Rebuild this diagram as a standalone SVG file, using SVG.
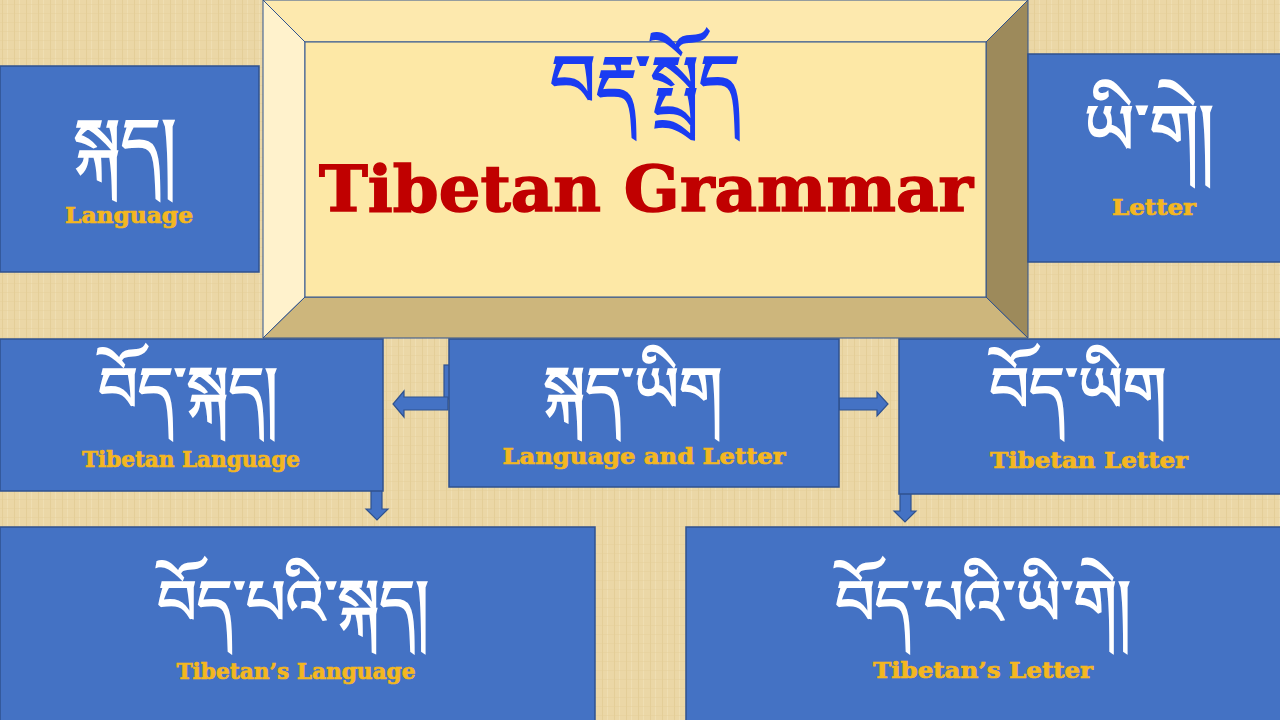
<svg xmlns="http://www.w3.org/2000/svg" width="1280" height="720" viewBox="0 0 1280 720">
<defs>
<pattern id="tex" width="12" height="9" patternUnits="userSpaceOnUse">
<rect width="12" height="9" fill="#ebd7a6"/>
<rect x="2" width="1" height="9" fill="#e0c88f" opacity="0.6"/>
<rect x="7" width="1" height="9" fill="#f2e2b8" opacity="0.7"/>
<rect y="4" width="12" height="1" fill="#e3cd97" opacity="0.4"/>
</pattern>
<style>
.box{fill:#4472c4;stroke:#2f528f;stroke-width:1.5}
.arr{fill:#4472c4;stroke:#2f528f;stroke-width:1.2}
.tb{font-family:"Noto Serif Tibetan","Noto Sans Tibetan","Jomolhari","Microsoft Himalaya",serif;fill:#ffffff;stroke:#ffffff;stroke-width:1.6;text-anchor:middle}
.en{font-family:"DejaVu Serif","Liberation Serif",serif;font-weight:bold;fill:#f4b720;stroke:#f4b720;stroke-width:0.7;text-anchor:middle}
.bev{stroke:#2f528f;stroke-width:1}
</style>
</defs>
<rect width="1280" height="720" fill="url(#tex)"/>

<g id="connectors">
<rect class="arr" x="444" y="365" width="6" height="34"/>
<polygon class="arr" points="448,397 404,397 404,391 393,404 404,417 404,410 448,410"/>
<polygon class="arr" points="839,398 877,398 877,392 888,404 877,416 877,410 839,410"/>
<polygon class="arr" points="371,489 382,489 382,509 388,509 377,520 366,509 371,509"/>
<polygon class="arr" points="900,492 911,492 911,511 916,511 905,522 894,511 900,511"/>
</g>

<g id="title">
<polygon class="bev" points="263,0 1028,0 986,42 305,42" fill="#fde9ae"/>
<polygon class="bev" points="263,0 305,42 305,297 263,338" fill="#fff2cc"/>
<polygon class="bev" points="305,297 986,297 1028,338 263,338" fill="#cdb67c"/>
<polygon class="bev" points="1028,0 1028,338 986,297 986,42" fill="#9d8a5b"/>
<rect class="bev" x="305" y="42" width="681" height="255" fill="#fde8a6"/>
<text x="645" y="106" font-family="'Noto Serif Tibetan','Noto Sans Tibetan',serif" font-size="72" fill="#1a3cf2" stroke="#1a3cf2" stroke-width="1.6" text-anchor="middle">བརྡ་སྤྲོད</text>
<text x="646" y="211" font-family="'DejaVu Serif','Liberation Serif',serif" font-weight="bold" font-size="64" fill="#c00000" stroke="#c00000" stroke-width="1.5" text-anchor="middle" textLength="654" lengthAdjust="spacingAndGlyphs">Tibetan Grammar</text>
</g>

<g id="language">
<rect class="box" x="0" y="66" width="259" height="206"/>
<text class="tb" x="125" y="168" font-size="70">སྐད།</text>
<text class="en" x="129" y="223" font-size="22" textLength="128" lengthAdjust="spacingAndGlyphs">Language</text>
</g>

<g id="letter">
<rect class="box" x="1028" y="54" width="254" height="208"/>
<text class="tb" x="1149" y="154" font-size="70">ཡི་གེ།</text>
<text class="en" x="1154" y="215" font-size="22" textLength="84" lengthAdjust="spacingAndGlyphs">Letter</text>
</g>

<g id="tibetan-language">
<rect class="box" x="0" y="339" width="383" height="152"/>
<text class="tb" x="188" y="411" font-size="62">བོད་སྐད།</text>
<text class="en" x="191" y="467" font-size="22" textLength="218" lengthAdjust="spacingAndGlyphs">Tibetan Language</text>
</g>

<g id="language-and-letter">
<rect class="box" x="449" y="339" width="390" height="148"/>
<text class="tb" x="633" y="411" font-size="62">སྐད་ཡིག</text>
<text class="en" x="644" y="464" font-size="22" textLength="283" lengthAdjust="spacingAndGlyphs">Language and Letter</text>
</g>

<g id="tibetan-letter">
<rect class="box" x="899" y="339" width="383" height="155"/>
<text class="tb" x="1078" y="411" font-size="62">བོད་ཡིག</text>
<text class="en" x="1089" y="468" font-size="22" textLength="198" lengthAdjust="spacingAndGlyphs">Tibetan Letter</text>
</g>

<g id="tibetans-language">
<rect class="box" x="0" y="527" width="595" height="195"/>
<text class="tb" x="293" y="624" font-size="62">བོད་པའི་སྐད།</text>
<text class="en" x="296" y="679" font-size="22" textLength="239" lengthAdjust="spacingAndGlyphs">Tibetan’s Language</text>
</g>

<g id="tibetans-letter">
<rect class="box" x="686" y="527" width="596" height="195"/>
<text class="tb" x="983" y="624" font-size="62">བོད་པའི་ཡི་གེ།</text>
<text class="en" x="983" y="678" font-size="22" textLength="220" lengthAdjust="spacingAndGlyphs">Tibetan’s Letter</text>
</g>
</svg>
